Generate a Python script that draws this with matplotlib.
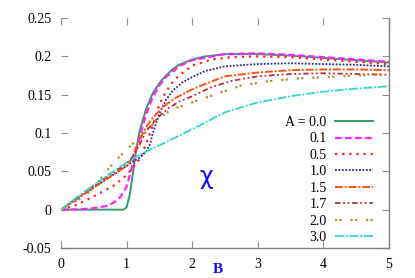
import numpy as np
import matplotlib
matplotlib.use("Agg")
import matplotlib.pyplot as plt

plt.rcParams['font.family'] = ['Liberation Serif', 'DejaVu Serif']

# curves, one per A value
b_00 = [0, 0.95, 1.0, 1.05, 1.1, 1.15, 1.2, 1.3, 1.4, 1.5, 1.6, 1.7, 1.8, 2.0, 2.2, 2.5, 3.0, 3.5, 4.0, 4.5, 5.0]
y_00 = [0, 0, 0.003, 0.02, 0.05, 0.08, 0.103, 0.132, 0.152, 0.165, 0.175, 0.183, 0.189, 0.196, 0.2, 0.203, 0.203, 0.201, 0.198, 0.195, 0.192]

b_01 = [0, 0.3, 0.5, 0.7, 0.8, 0.9, 1.0, 1.05, 1.1, 1.15, 1.2, 1.25, 1.3, 1.4, 1.5, 1.6, 1.8, 2.0, 2.5, 3.0, 3.5, 4.0, 4.5, 5.0]
y_01 = [0, 0.0005, 0.002, 0.005, 0.009, 0.016, 0.03, 0.045, 0.062, 0.078, 0.095, 0.11, 0.125, 0.147, 0.162, 0.173, 0.187, 0.195, 0.203, 0.204, 0.202, 0.199, 0.196, 0.193]

b_05 = [0, 0.2, 0.4, 0.6, 0.8, 1.0, 1.1, 1.2, 1.3, 1.4, 1.5, 1.6, 1.7, 1.8, 2.0, 2.3, 2.6, 3.0, 3.5, 4.0, 4.5, 5.0]
y_05 = [0, 0.005, 0.013, 0.022, 0.031, 0.045, 0.055, 0.066, 0.086, 0.11, 0.137, 0.154, 0.166, 0.175, 0.188, 0.196, 0.199, 0.2, 0.199, 0.196, 0.193, 0.19]

b_10 = [0, 0.5, 1.0, 1.2, 1.3, 1.36, 1.4, 1.5, 1.6, 1.7, 1.85, 2.0, 2.2, 2.5, 3.0, 3.5, 4.0, 4.5, 5.0]
y_10 = [0, 0.029, 0.057, 0.068, 0.076, 0.086, 0.1, 0.125, 0.143, 0.155, 0.166, 0.173, 0.181, 0.187, 0.19, 0.191, 0.19, 0.189, 0.187]

b_15 = [0, 0.5, 1.0, 1.08, 1.13, 1.2, 1.25, 1.3, 1.4, 1.5, 1.6, 1.75, 2.0, 2.2, 2.5, 3.0, 3.5, 4.0, 4.5, 5.0]
y_15 = [0, 0.029, 0.057, 0.066, 0.078, 0.09, 0.1, 0.108, 0.12, 0.129, 0.137, 0.146, 0.157, 0.164, 0.174, 0.179, 0.182, 0.183, 0.183, 0.182]

b_17 = [0, 0.5, 1.0, 1.1, 1.2, 1.3, 1.4, 1.5, 1.65, 1.8, 2.0, 2.3, 2.6, 3.0, 3.5, 4.0, 4.5, 5.0]
y_17 = [0, 0.031, 0.06, 0.07, 0.085, 0.103, 0.112, 0.122, 0.133, 0.141, 0.148, 0.16, 0.168, 0.174, 0.177, 0.178, 0.177, 0.176]

b_20 = [0, 0.37, 0.52, 0.67, 0.82, 1.0, 1.2, 1.33, 1.48, 1.6, 1.76, 2.0, 2.4, 2.75, 3.2, 3.6, 4.25, 5.0]
y_20 = [0, 0.018, 0.031, 0.048, 0.063, 0.078, 0.095, 0.105, 0.118, 0.126, 0.133, 0.14, 0.152, 0.162, 0.168, 0.171, 0.174, 0.177]

b_30 = [0, 0.3, 0.6, 0.85, 1.1, 1.35, 1.6, 2.0, 2.5, 3.0, 3.5, 4.0, 4.5, 5.0]
y_30 = [0, 0.02, 0.038, 0.053, 0.067, 0.078, 0.088, 0.105, 0.127, 0.14, 0.148, 0.154, 0.158, 0.161]

labels = ['A = 0.0', '0.1', '0.5', '1.0', '1.5', '1.7', '2.0', '3.0']
xticks = [0, 1, 2, 3, 4, 5]
yticks = [-0.05, 0, 0.05, 0.1, 0.15, 0.2, 0.25]
ytick_labels = ['-0.05', '0', '0.05', '0.1', '0.15', '0.2', '0.25']

series = [(b_00, y_00), (b_01, y_01), (b_05, y_05), (b_10, y_10),
          (b_15, y_15), (b_17, y_17), (b_20, y_20), (b_30, y_30)]
styles = [
    dict(color='#3a9a6a', ls='-', lw=1.4),
    dict(color='#ff22ff', ls=(0, (3, 1.5)), lw=1.6),
    dict(color='#ff2020', ls=(0, (1, 2.2)), lw=1.6),
    dict(color='#2a2a8a', ls=(0, (1, 0.9)), lw=1.3),
    dict(color='#ff5010', ls=(0, (4, 1, 1, 1)), lw=1.4),
    dict(color='#b03040', ls=(0, (3, 1.5, 1, 1.5, 1, 1.5)), lw=1.3),
    dict(color='#b8902a', ls=(0, (1, 1, 1, 4)), lw=1.6),
    dict(color='#30d8d0', ls=(0, (5, 1, 1, 1)), lw=1.3),
]

fig = plt.figure(figsize=(4.15, 2.78), dpi=100)
ax = fig.add_axes([0.147, 0.108, 0.790, 0.827])

for (b, y), st, lab in zip(series, styles, labels):
    ax.plot(b, y, label=lab, **st)

ax.set_xlim(0, 5)
ax.set_ylim(-0.05, 0.25)
ax.set_xticks(xticks)
ax.set_xticklabels([str(t) for t in xticks])
ax.set_yticks(yticks)
ax.set_yticklabels(ytick_labels)
ax.tick_params(direction='in', length=5, width=0.8, color='#909090',
               top=True, right=True, labelsize=10, pad=7)

for side in ['left', 'top']:
    ax.spines[side].set_visible(False)
for side in ['bottom', 'right']:
    ax.spines[side].set_color('#808080')
    ax.spines[side].set_linewidth(1.0)

ax.set_xlabel('B', color='#1010ee', fontsize=11, fontweight='bold')
ax.xaxis.set_label_coords(0.477, -0.066)

ax.text(2.22, 0.042, 'χ', color='#1010ee', fontsize=17, family='DejaVu Sans',
        ha='center', va='center')

leg = ax.legend(loc='lower right', bbox_to_anchor=(0.98, -0.026), frameon=False,
                markerfirst=False, fontsize=10, handlelength=2.7,
                handletextpad=0.6, labelspacing=0.25, borderpad=0.2)
for t in leg.get_texts():
    t.set_ha('right')

fig.savefig('out.png', dpi=100)
